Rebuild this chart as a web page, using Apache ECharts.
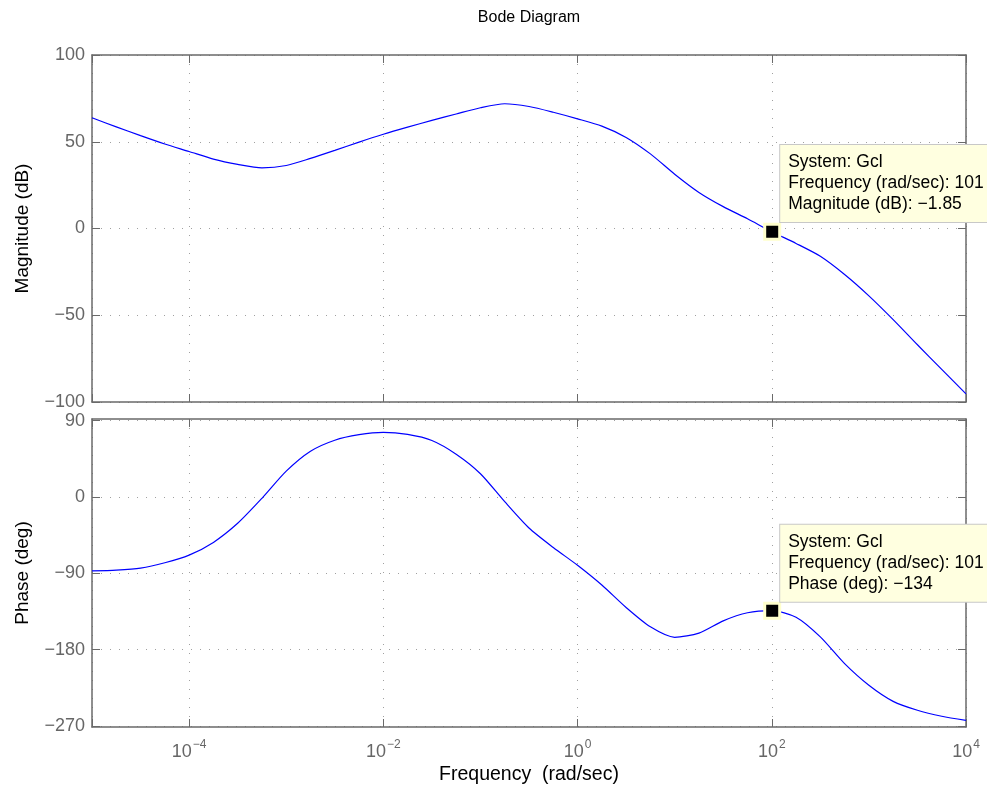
<!DOCTYPE html>
<html><head><meta charset="utf-8">
<script src="https://cdn.jsdelivr.net/npm/echarts@6/dist/echarts.min.js"></script>
<style>html,body{margin:0;padding:0;background:#fff}#c{width:987px;height:786px}</style>
</head><body><div id="c"></div>
<script>
// ---- data (frequency in rad/sec, read at quarter decades) ----
const freq = [1e-5, 1.778e-5, 3.162e-5, 5.623e-5, 1e-4, 1.778e-4, 3.162e-4, 5.623e-4, 1e-3, 1.778e-3, 3.162e-3, 5.623e-3,
  1e-2, 1.778e-2, 3.162e-2, 5.623e-2, 0.1, 0.1778, 0.3162, 0.5623, 1, 1.778, 3.162, 5.623, 10, 17.78, 31.62, 56.23,
  100, 177.8, 316.2, 562.3, 1000, 1778, 3162, 5623, 10000];
const magDb = [63.8, 58.6, 53.5, 48.7, 44.4, 40.0, 37.0, 35.0, 36.3, 40.4, 45.0, 49.8,
  54.3, 58.4, 62.3, 66.0, 69.6, 71.9, 70.3, 67.0, 63.2, 59.0, 52.5, 43.0, 31.3, 20.8, 12.6, 5.6,
  -1.85, -8.6, -16.0, -26.5, -38.8, -52.5, -67.0, -81.2, -95.3];
const phaseDeg = [-87.2, -86.2, -83.8, -77.5, -68.5, -53.5, -31, -1.5, 30.5, 54, 67, 73.5,
  76.3, 73.8, 66.7, 50.5, 27.5, -5.5, -36.5, -59.5, -80.5, -103.8, -130.3, -153.1, -165.4, -160.5, -146, -136.5,
  -134, -141.8, -165, -196.5, -222, -241, -251.5, -258.5, -263.3];
const tipFreq = 101;
const tipMag = -1.85;
const tipPhase = -134;
const tipSystem = 'Gcl';
const xTickExps = [-4, -2, 0, 2, 4];
const magTicks = [-100, -50, 0, 50, 100];
const phaseTicks = [-270, -180, -90, 0, 90];

const FONT = 'Liberation Sans, Arial, Helvetica, sans-serif';
const minus = s => String(s).replace('-', '\u2212');
const gridLine = { show: true, lineStyle: { color: '#a0a0a0', type: [1, 8], width: 1 } };
const axLine = { show: true, onZero: false, lineStyle: { color: '#6a6a6a', width: 1.5 } };
const tick = { show: true, inside: true, length: 8, lineStyle: { color: '#6a6a6a', width: 1 } };

function xAx(gridIndex, pos, opts) {
  return Object.assign({
    type: 'log', logBase: 100, min: 1e-5, max: 1e4, gridIndex, position: pos,
    axisLine: axLine, axisTick: tick, splitLine: { show: false },
    axisLabel: { show: false }, minorTick: { show: false }
  }, opts || {});
}
const xLabel = {
  show: true, margin: 12, showMinLabel: true,
  formatter: v => {
    const e = Math.round(Math.log10(v));
    if (!xTickExps.includes(e)) return '';
    return '{b|10}{e|' + minus(e) + '}';
  },
  rich: {
    b: { fontSize: 18, color: '#666', fontFamily: FONT, lineHeight: 22, verticalAlign: 'bottom' },
    e: { fontSize: 12, color: '#666', fontFamily: FONT, lineHeight: 22, verticalAlign: 'top', padding: [0, 0, 0, 1] }
  }
};
const tipLabel = {
  show: true, position: 'inside', align: 'left', verticalAlign: 'top',
  fontSize: 17.5, lineHeight: 21, color: '#000', fontFamily: FONT,
  backgroundColor: '#ffffe0', borderColor: '#c8c8c8', borderWidth: 1, padding: [7, 40, 7, 8]
};

const option = {
  backgroundColor: '#fff',
  animation: false,
  grid: [
    { left: 92, top: 55, width: 874, height: 347, show: false, containLabel: false, outerBoundsMode: 'none' },
    { left: 92, top: 419, width: 874, height: 308, show: false, containLabel: false, outerBoundsMode: 'none' }
  ],
  xAxis: [
    xAx(0, 'bottom', { splitLine: gridLine }),
    xAx(1, 'bottom', { splitLine: gridLine, axisLabel: xLabel,
      name: 'Frequency  (rad/sec)', nameLocation: 'middle', nameGap: 38,
      nameTextStyle: { fontSize: 19.5, color: '#000', fontFamily: FONT } }),
    xAx(0, 'top', { name: 'Bode Diagram', nameLocation: 'middle', nameGap: 29,
      nameTextStyle: { fontSize: 16, color: '#000', fontFamily: FONT } }),
    xAx(1, 'top')
  ],
  yAxis: [
    { type: 'value', gridIndex: 0, min: -100, max: 100, interval: 50, position: 'left',
      axisLine: axLine, axisTick: tick, splitLine: gridLine,
      axisLabel: { fontSize: 18, color: '#666', fontFamily: FONT, margin: 7, formatter: v => minus(v) },
      name: 'Magnitude (dB)', nameLocation: 'middle', nameGap: 60,
      nameTextStyle: { fontSize: 19, color: '#000', fontFamily: FONT } },
    { type: 'value', gridIndex: 1, min: -271.2, max: 92, position: 'left',
      axisLine: axLine, axisTick: Object.assign({ customValues: phaseTicks }, tick), splitLine: gridLine,
      axisLabel: { customValues: phaseTicks, fontSize: 18, color: '#666', fontFamily: FONT, margin: 7, formatter: v => minus(v) },
      name: 'Phase (deg)', nameLocation: 'middle', nameGap: 60,
      nameTextStyle: { fontSize: 19, color: '#000', fontFamily: FONT } },
    { type: 'value', gridIndex: 0, min: -100, max: 100, interval: 50, position: 'right',
      axisLine: axLine, axisTick: tick, splitLine: { show: false }, axisLabel: { show: false } },
    { type: 'value', gridIndex: 1, min: -271.2, max: 92, position: 'right',
      axisLine: axLine, axisTick: Object.assign({ customValues: phaseTicks }, tick),
      splitLine: { show: false }, axisLabel: { show: false, customValues: phaseTicks } }
  ],
  series: [
    { type: 'line', xAxisIndex: 0, yAxisIndex: 0, showSymbol: false, smooth: 0.25,
      data: freq.map((f, i) => [f, magDb[i]]), lineStyle: { color: '#0000ff', width: 1.2 }, z: 3 },
    { type: 'line', xAxisIndex: 1, yAxisIndex: 1, showSymbol: false, smooth: 0.25,
      data: freq.map((f, i) => [f, phaseDeg[i]]), lineStyle: { color: '#0000ff', width: 1.2 }, z: 3 },
    { type: 'scatter', xAxisIndex: 0, yAxisIndex: 0, symbol: 'rect', symbolSize: 15, z: 10,
      itemStyle: { color: '#000', borderColor: '#ffffcc', borderWidth: 3, opacity: 1 },
      data: [[tipFreq, tipMag]],
      label: Object.assign({ offset: [8, -86.7],
        formatter: 'System: ' + tipSystem + '\nFrequency (rad/sec): ' + tipFreq + '\nMagnitude (dB): ' + minus(tipMag) }, tipLabel) },
    { type: 'scatter', xAxisIndex: 1, yAxisIndex: 1, symbol: 'rect', symbolSize: 15, z: 10,
      itemStyle: { color: '#000', borderColor: '#ffffcc', borderWidth: 3, opacity: 1 },
      data: [[tipFreq, tipPhase]],
      label: Object.assign({ offset: [8, -86],
        formatter: 'System: ' + tipSystem + '\nFrequency (rad/sec): ' + tipFreq + '\nPhase (deg): ' + minus(tipPhase) }, tipLabel) }
  ]
};
const chart = echarts.init(document.getElementById('c'), null, { renderer: 'canvas' });
chart.setOption(option);
</script></body></html>
